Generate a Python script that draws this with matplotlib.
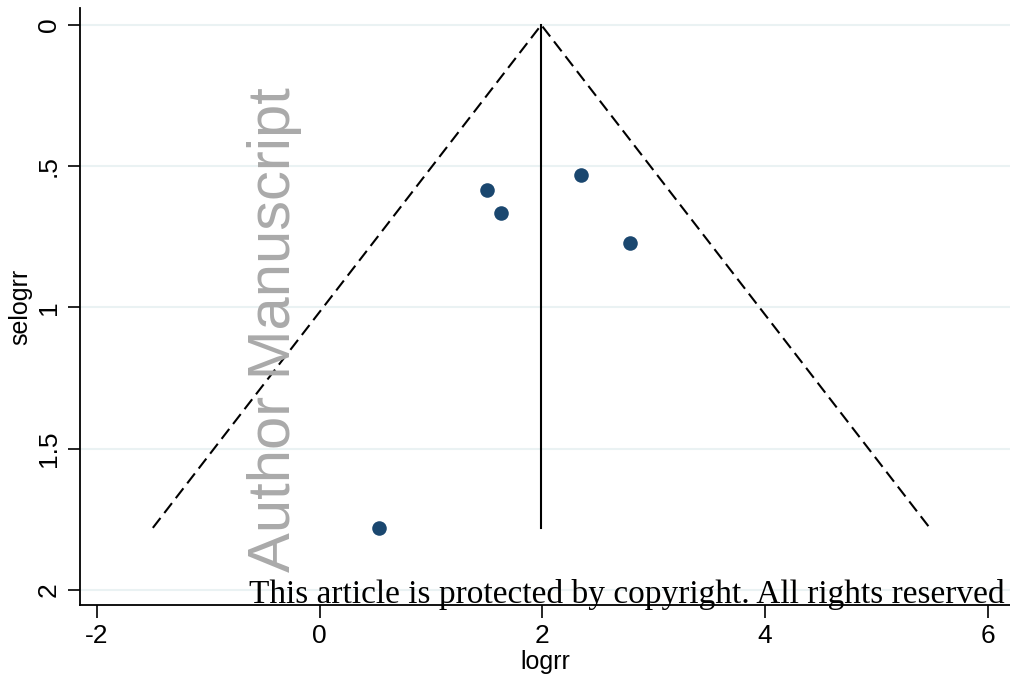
import numpy as np
import matplotlib
matplotlib.use('Agg')
import matplotlib.pyplot as plt

# Study estimates (log risk ratio and its standard error)
logrr = [0.53, 1.50, 1.63, 2.35, 2.79]
selogrr = [1.78, 0.585, 0.667, 0.532, 0.77]

# Pooled estimate and pseudo 95% limits
theta = 1.99
z = 1.96

x_ticks = [-2, 0, 2, 4, 6]
x_labels = ['-2', '0', '2', '4', '6']
y_ticks = [0, 0.5, 1, 1.5, 2]
y_labels = ['0', '.5', '1', '1.5', '2']

plt.rcParams['font.family'] = ['Liberation Sans', 'DejaVu Sans']

fig = plt.figure(figsize=(10.1, 6.79), dpi=100)
ax = fig.add_axes([80 / 1010, 1 - 605 / 679, 930 / 1010, 597 / 679])

# Funnel lines
se_max = max(selogrr)
ax.plot([theta - z * se_max, theta, theta + z * se_max], [se_max, 0, se_max],
        color='black', lw=1.5, ls=(0, (6, 3)), zorder=2)
ax.plot([theta, theta], [0, se_max], color='black', lw=1.5, zorder=2)

# Studies
ax.scatter(logrr, selogrr, s=110, color='#1a476f', zorder=3, linewidths=0)

ax.set_xlim(-2.153, 6.2)
ax.set_ylim(2.053, -0.06)
ax.set_xticks(x_ticks)
ax.set_xticklabels(x_labels)
ax.set_yticks(y_ticks)
ax.set_yticklabels(y_labels, rotation=90, va='center')
ax.tick_params(labelsize=19, length=9, width=1.2, color='black', pad=5)
ax.yaxis.grid(True, color='#eaf2f3', lw=1.5)
ax.set_axisbelow(True)
for side in ['top', 'right']:
    ax.spines[side].set_visible(False)
for side in ['left', 'bottom']:
    ax.spines[side].set_linewidth(1.3)

ax.set_xlabel('logrr', fontsize=18, labelpad=1)
ax.set_ylabel('selogrr', fontsize=18, labelpad=3)

# Watermark and footer
fig.text(290 / 1010, 1 - 572 / 679, 'Author Manuscript', rotation=90,
         rotation_mode='anchor', ha='left', va='baseline', fontsize=43,
         color='#aaaaaa', zorder=5)
fig.text(1005 / 1010, 1 - 603 / 679,
         'This article is protected by copyright. All rights reserved',
         ha='right', va='baseline', fontsize=24, family='Liberation Serif',
         color='black', zorder=5)

fig.savefig('out.png', dpi=100)
